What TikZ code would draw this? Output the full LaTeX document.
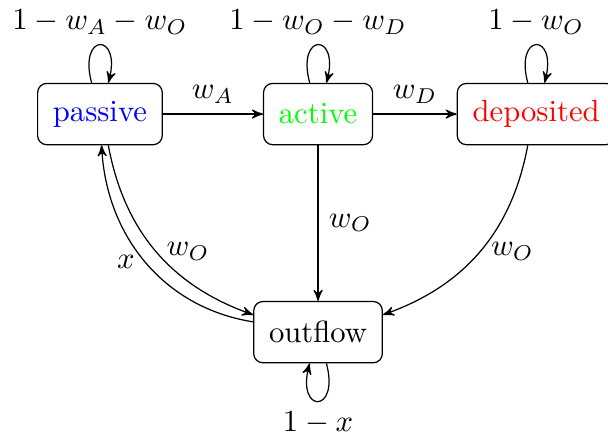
\documentclass[tikz,border=0pt]{standalone}
\usetikzlibrary{arrows}
\begin{document}
\begin{tikzpicture}[>=stealth', auto,
  state/.style={draw, rounded corners=3pt, inner sep=5pt, minimum height=20pt},
  every loop/.style={->}]
\useasboundingbox (-32.6pt,37.2pt) rectangle (165.7pt,-106.7pt);
\node[state] (passive) at (0,0) {\textcolor{blue}{passive}};
\node[state] (active) at (2.5,0) {\textcolor{green}{active}};
\node[state] (deposited) at (5,0) {\textcolor{red}{deposited}};
\node[state] (outflow) at (2.5,-2.5) {outflow};
\path[->]
  (passive) edge[loop above] node[above] {$1-w_A-w_O$} (passive)
  (active) edge[loop above] node[above] {$1-w_O-w_D$} (active)
  (deposited) edge[loop above] node[above] {$1-w_O$} (deposited)
  (outflow) edge[loop below] node[below] {$1-x$} (outflow)
  (passive) edge node {$w_A$} (active)
  (active) edge node {$w_D$} (deposited)
  (active) edge node {$w_O$} (outflow)
  (passive) edge[bend right=30] node[right] {$w_O$} (outflow)
  (outflow) edge[out=171, in=-87] node[left] {$x$} (passive)
  (deposited) edge[bend left=30] node[right] {$w_O$} (outflow);
\end{tikzpicture}
\end{document}
